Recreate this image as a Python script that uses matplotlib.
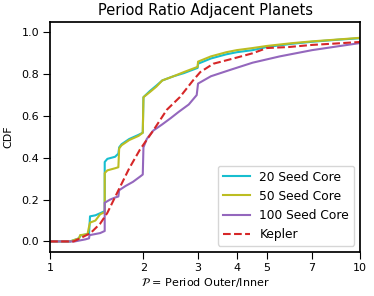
import numpy as np
import matplotlib.pyplot as plt
from matplotlib.ticker import FixedLocator, NullLocator, FixedFormatter

# period ratio / cdf points (repeated x = vertical jump)
p_20 = [1.0, 1.16, 1.24, 1.25, 1.32, 1.335, 1.345, 1.40, 1.45, 1.50, 1.50, 1.53, 1.62, 1.66, 1.67, 1.70, 1.80, 1.93, 1.99, 2.0, 2.1, 2.2, 2.3, 2.5, 2.7, 2.99, 3.0, 3.3, 3.7, 4.0, 4.5, 5.0, 6.0, 7.0, 8.5, 10.0]
cdf_20 = [0.0, 0.0, 0.015, 0.028, 0.035, 0.035, 0.12, 0.125, 0.135, 0.145, 0.38, 0.395, 0.405, 0.42, 0.45, 0.465, 0.49, 0.51, 0.52, 0.69, 0.72, 0.745, 0.77, 0.79, 0.805, 0.83, 0.85, 0.875, 0.895, 0.905, 0.915, 0.93, 0.945, 0.955, 0.965, 0.972]

p_50 = [1.0, 1.16, 1.24, 1.25, 1.32, 1.335, 1.345, 1.40, 1.45, 1.50, 1.50, 1.53, 1.62, 1.66, 1.67, 1.70, 1.80, 1.93, 1.99, 2.0, 2.1, 2.2, 2.3, 2.5, 2.7, 2.99, 3.0, 3.3, 3.7, 4.0, 4.5, 5.0, 6.0, 7.0, 8.5, 10.0]
cdf_50 = [0.0, 0.0, 0.015, 0.03, 0.035, 0.07, 0.09, 0.10, 0.13, 0.14, 0.327, 0.34, 0.35, 0.355, 0.445, 0.46, 0.485, 0.505, 0.52, 0.69, 0.715, 0.74, 0.77, 0.79, 0.81, 0.835, 0.86, 0.885, 0.905, 0.915, 0.925, 0.935, 0.948, 0.957, 0.966, 0.974]

p_100 = [1.0, 1.20, 1.30, 1.335, 1.34, 1.45, 1.50, 1.50, 1.56, 1.62, 1.66, 1.67, 1.75, 1.85, 1.95, 1.99, 2.0, 2.05, 2.15, 2.3, 2.45, 2.6, 2.8, 2.97, 3.0, 3.3, 3.8, 4.5, 5.5, 7.0, 10.0]
cdf_100 = [0.0, 0.0, 0.01, 0.015, 0.03, 0.04, 0.05, 0.185, 0.20, 0.21, 0.215, 0.245, 0.265, 0.285, 0.31, 0.32, 0.45, 0.49, 0.53, 0.56, 0.59, 0.62, 0.655, 0.70, 0.755, 0.79, 0.82, 0.855, 0.885, 0.915, 0.949]

p_kep = [1.0, 1.19, 1.25, 1.35, 1.45, 1.53, 1.68, 1.80, 1.95, 2.15, 2.38, 2.62, 2.89, 3.05, 3.36, 3.9, 4.5, 5.0, 5.9, 7.0, 8.2, 10.0]
cdf_kep = [0.0, 0.0, 0.015, 0.04, 0.085, 0.137, 0.26, 0.35, 0.44, 0.53, 0.63, 0.69, 0.77, 0.81, 0.85, 0.875, 0.90, 0.925, 0.93, 0.94, 0.946, 0.954]

xticks = [1, 2, 3, 4, 5, 7, 10]

fig = plt.figure(figsize=(3.74, 2.96), dpi=100)
ax = fig.add_axes([0.134, 0.149, 0.829, 0.777])

ax.plot(p_20, cdf_20, color='#17becf', lw=1.5, label='20 Seed Core')
ax.plot(p_50, cdf_50, color='#bcbd22', lw=1.5, label='50 Seed Core')
ax.plot(p_100, cdf_100, color='#9467bd', lw=1.5, label='100 Seed Core')
ax.plot(p_kep, cdf_kep, color='#d62728', lw=1.5, ls='--', label='Kepler')

ax.set_xscale('log')
ax.set_xlim(1, 10)
ax.set_ylim(-0.05, 1.05)
ax.xaxis.set_major_locator(FixedLocator(xticks))
ax.xaxis.set_major_formatter(FixedFormatter([str(t) for t in xticks]))
ax.xaxis.set_minor_locator(NullLocator())
ax.set_yticks([0.0, 0.2, 0.4, 0.6, 0.8, 1.0])
ax.tick_params(labelsize=8, length=5, width=0.8, direction='out', pad=3)
for s in ax.spines.values():
    s.set_linewidth(1.25)

ax.set_title('Period Ratio Adjacent Planets', fontsize=10.5, pad=5)
ax.set_xlabel(r'$\mathcal{P}$ = Period Outer/Inner', fontsize=8, labelpad=2)
ax.set_ylabel('CDF', fontsize=8, labelpad=6)
ax.legend(loc='lower right', fontsize=8.8, handlelength=2.2, borderaxespad=0.5)

fig.savefig('out.png', dpi=100)
